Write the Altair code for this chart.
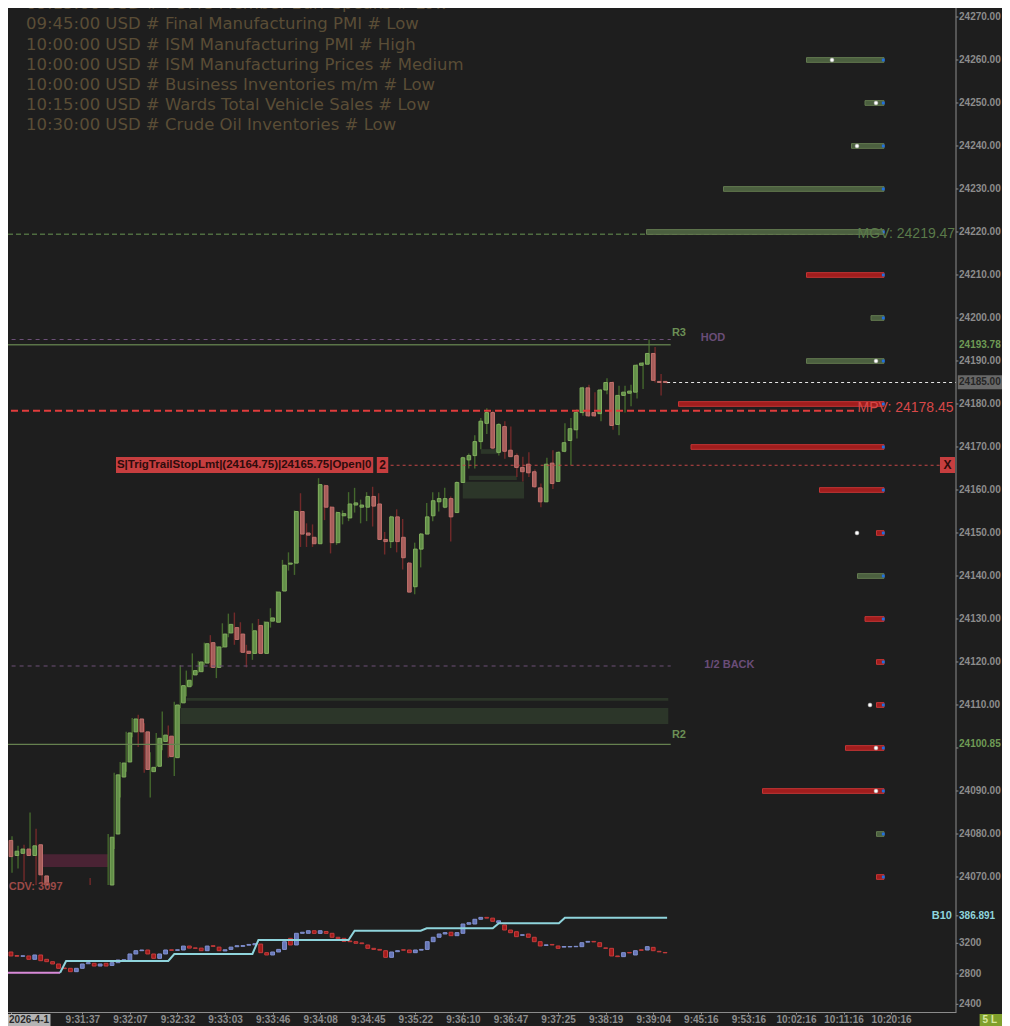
import json
import numpy as np
import pandas as pd
import altair as alt

# ---------------------------------------------------------------- data
NEWS = [
    "09:15:00 USD # FOMC Member Barr Speaks # Low",
    "09:45:00 USD # Final Manufacturing PMI # Low",
    "10:00:00 USD # ISM Manufacturing PMI # High",
    "10:00:00 USD # ISM Manufacturing Prices # Medium",
    "10:00:00 USD # Business Inventories m/m # Low",
    "10:15:00 USD # Wards Total Vehicle Sales # Low",
    "10:30:00 USD # Crude Oil Inventories # Low",
]
DATE_LABEL = "2026-4-1"
TIME_TICKS = [12, 20, 28, 36, 44, 52, 60, 68, 76, 84, 92, 100, 108, 116, 124, 132, 140, 148]
TIME_LABELS = ["9:31:37", "9:32:07", "9:32:32", "9:33:03", "9:33:46", "9:34:08", "9:34:45",
               "9:35:22", "9:36:10", "9:36:47", "9:37:25", "9:38:19", "9:39:04", "9:45:16",
               "9:53:16", "10:02:16", "10:11:16", "10:20:16"]
PRICE_TICKS = [24070, 24080, 24090, 24100, 24110, 24120, 24130, 24140, 24150, 24160, 24170,
               24180, 24190, 24200, 24210, 24220, 24230, 24240, 24250, 24260, 24270]
PRICE_TICKS_HIDDEN = [24100]
CDV_TICKS = [2400, 2800, 3200]

OPEN = [24078.5, 24075.0, 24075.5, 24076.5, 24075.0, 24077.5, 24070.25, 24066.0, 24062.0, 24057.0,
        24054.0, 24052.0, 24058.0, 24062.0, 24063.0, 24060.0, 24064.0, 24060.5, 24080.0, 24093.25,
        24096.75, 24103.75, 24106.75, 24103.75, 24094.5, 24095.75, 24101.5, 24102.75, 24097.75, 24110.5,
        24114.25, 24117.0, 24117.75, 24119.75, 24124.5, 24118.75, 24123.5, 24126.75, 24128.0, 24126.5,
        24122.5, 24122.0, 24128.5, 24122.0, 24129.5, 24129.25, 24136.5, 24142.75, 24143.0, 24155.0,
        24150.0, 24149.0, 24147.5, 24161.0, 24156.0, 24147.75, 24154.0, 24153.5, 24156.5, 24156.0,
        24156.0, 24158.5, 24156.75, 24148.5, 24148.0, 24153.75, 24149.0, 24143.0, 24137.5, 24146.25,
        24149.75, 24154.0, 24157.25, 24156.0, 24158.0, 24154.75, 24161.75, 24167.0, 24168.0, 24171.25,
        24175.5, 24178.0, 24168.75, 24174.75, 24169.25, 24168.0, 24165.25, 24166.0, 24164.25, 24160.5,
        24157.25, 24166.25, 24162.0, 24169.0, 24171.5, 24174.0, 24178.0, 24183.75, 24178.0, 24177.75,
        24183.25, 24185.0, 24175.25, 24182.0, 24182.5, 24182.75, 24189.0, 24189.25, 24191.75, 24185.25,
        24185.25]
HIGH = [24080.25, 24079.5, 24077.25, 24077.5, 24085.0, 24081.25, 24072.25, 24067.5, 24064.0, 24059.0,
        24058.0, 24060.0, 24064.0, 24066.0, 24069.75, 24065.0, 24066.0, 24080.0, 24094.25, 24096.75,
        24103.75, 24107.0, 24107.75, 24105.75, 24099.0, 24103.5, 24108.5, 24105.25, 24110.75, 24119.25,
        24118.0, 24122.0, 24120.25, 24124.5, 24126.25, 24123.75, 24129.0, 24131.25, 24131.5, 24129.25,
        24124.0, 24129.0, 24130.0, 24129.5, 24132.5, 24136.5, 24143.75, 24145.5, 24155.25, 24159.25,
        24152.25, 24152.0, 24162.75, 24161.25, 24156.25, 24155.0, 24155.25, 24159.5, 24160.5, 24157.75,
        24159.5, 24160.75, 24159.25, 24150.25, 24154.0, 24155.5, 24153.25, 24143.25, 24147.75, 24150.0,
        24157.0, 24159.5, 24159.5, 24160.5, 24158.5, 24162.0, 24167.75, 24168.5, 24172.75, 24176.75,
        24179.0, 24178.5, 24175.5, 24176.0, 24174.75, 24168.5, 24167.75, 24168.75, 24164.75, 24161.5,
        24167.5, 24169.25, 24169.0, 24175.5, 24176.75, 24178.75, 24184.0, 24184.5, 24182.75, 24183.5,
        24186.0, 24185.25, 24184.25, 24184.25, 24184.5, 24189.25, 24189.75, 24195.0, 24193.25, 24187.0,
        24185.25]
LOW = [24070.5, 24071.0, 24072.0, 24069.0, 24075.0, 24068.0, 24062.0, 24060.0, 24055.5, 24052.0,
       24050.0, 24051.0, 24056.0, 24058.0, 24058.5, 24058.0, 24059.0, 24059.5, 24076.5, 24088.5,
       24094.5, 24102.5, 24100.25, 24094.25, 24088.5, 24095.5, 24099.5, 24097.75, 24093.5, 24109.25,
       24112.0, 24114.5, 24117.5, 24119.25, 24118.75, 24116.25, 24123.25, 24125.75, 24124.0, 24122.25,
       24118.75, 24120.5, 24122.0, 24122.0, 24128.0, 24129.25, 24136.5, 24141.25, 24140.25, 24146.75,
       24146.75, 24146.75, 24147.5, 24153.0, 24145.25, 24147.25, 24152.0, 24152.75, 24154.75, 24152.25,
       24152.75, 24151.5, 24148.5, 24145.0, 24146.5, 24145.5, 24141.5, 24136.25, 24135.75, 24142.0,
       24149.75, 24152.75, 24155.0, 24155.75, 24148.0, 24154.75, 24161.75, 24165.0, 24165.0, 24169.5,
       24173.0, 24169.5, 24168.0, 24167.25, 24167.75, 24163.0, 24162.0, 24163.0, 24160.5, 24156.0,
       24157.25, 24160.25, 24162.0, 24168.75, 24165.75, 24172.0, 24177.25, 24177.0, 24177.0, 24176.0,
       24182.25, 24174.0, 24172.75, 24178.0, 24179.5, 24181.25, 24183.5, 24189.25, 24185.0, 24182.0,
       24184.75]
CLOSE = [24074.75, 24076.0, 24076.5, 24075.0, 24077.25, 24070.5, 24066.0, 24062.0, 24057.0, 24054.0,
         24052.0, 24058.0, 24062.0, 24063.0, 24060.0, 24064.0, 24060.5, 24079.25, 24093.75, 24096.5,
         24103.5, 24106.75, 24103.75, 24095.0, 24095.5, 24102.25, 24103.0, 24098.0, 24110.0, 24114.5,
         24115.75, 24118.0, 24120.0, 24124.25, 24118.75, 24123.5, 24126.5, 24128.75, 24125.25, 24122.25,
         24122.0, 24127.25, 24122.0, 24129.25, 24130.25, 24136.25, 24142.5, 24143.0, 24155.0, 24149.75,
         24149.5, 24147.5, 24161.25, 24156.0, 24147.75, 24154.75, 24154.5, 24156.75, 24157.0, 24156.5,
         24158.5, 24156.25, 24148.5, 24148.0, 24153.75, 24148.0, 24144.25, 24136.25, 24146.25, 24149.75,
         24153.75, 24157.5, 24158.0, 24158.0, 24153.75, 24161.75, 24167.5, 24168.0, 24171.25, 24176.0,
         24178.0, 24169.75, 24175.25, 24169.0, 24167.75, 24165.25, 24164.25, 24164.0, 24160.75, 24157.25,
         24166.0, 24161.5, 24168.75, 24171.0, 24174.25, 24178.0, 24183.75, 24177.25, 24177.25, 24183.25,
         24185.0, 24175.0, 24182.0, 24182.75, 24183.0, 24189.0, 24189.5, 24191.75, 24185.5, 24185.0,
         24185.0]

CDV_OPEN = [3086, 3040, 3030, 3034, 2990, 3047, 2990, 2959, 2929, 2876,
            2872, 2828, 2872, 2932, 2938, 2902, 2938, 2910, 2946, 2975,
            2972, 3060, 3103, 3112, 3060, 3003, 3060, 3115, 3108, 3112,
            3164, 3140, 3137, 3103, 3168, 3150, 3100, 3120, 3155, 3160,
            3175, 3180, 3190, 3077, 3047, 3086, 3120, 3265, 3178, 3331,
            3331, 3365, 3330, 3355, 3331, 3279, 3265, 3230, 3221, 3205,
            3178, 3134, 3120, 3103, 3016, 3090, 3115, 3112, 3077, 3110,
            3120, 3221, 3279, 3322, 3345, 3300, 3331, 3450, 3453, 3515,
            3540, 3530, 3470, 3440, 3374, 3352, 3305, 3322, 3279, 3221,
            3172, 3185, 3165, 3150, 3152, 3155, 3156, 3215, 3225, 3208,
            3140, 3134, 3034, 3025, 3080, 3047, 3115, 3112, 3147, 3095,
            3080]
CDV_CLOSE = [3034, 3030, 3036, 2990, 3047, 2972, 2959, 2929, 2872, 2868,
             2828, 2872, 2929, 2946, 2902, 2929, 2902, 2946, 2981, 2985,
             3060, 3103, 3112, 3060, 3003, 3060, 3112, 3108, 3115, 3164,
             3137, 3134, 3103, 3164, 3160, 3103, 3115, 3150, 3168, 3170,
             3185, 3195, 3077, 3047, 3086, 3120, 3221, 3178, 3331, 3345,
             3365, 3330, 3365, 3330, 3279, 3260, 3225, 3221, 3200, 3195,
             3134, 3120, 3110, 3016, 3086, 3103, 3110, 3077, 3112, 3120,
             3221, 3279, 3322, 3340, 3300, 3340, 3453, 3470, 3515, 3540,
             3530, 3488, 3495, 3374, 3339, 3287, 3312, 3279, 3221, 3165,
             3180, 3178, 3134, 3158, 3158, 3160, 3208, 3225, 3218, 3156,
             3134, 3034, 3025, 3077, 3074, 3103, 3108, 3156, 3103, 3088,
             3075]
CDV_LAST = 3097

START_I = [0, 9]
START_V = [2815, 2815]
B10_I = [9, 10, 27, 28, 41, 42, 57, 58, 69, 70, 81, 82, 92, 93, 110]
B10_V = [2815, 2968, 2968, 3060, 3060, 3243, 3243, 3365, 3365, 3397, 3397, 3462, 3462, 3536, 3536]
B10_LAST = "386.891"
B10_LABEL_V = 3560

VP_PRICE = [24260, 24250, 24240, 24230, 24220, 24210, 24200, 24190, 24180, 24170,
            24160, 24150, 24140, 24130, 24120, 24110, 24100, 24090, 24080, 24070]
VP_VOL = [155, 38, 65, 321, 475, 155, 26, 155, 411, 386,
          129, 15, 53, 38, 15, 15, 77, 243, 15, 15]
VP_SIDE = ["buy", "buy", "buy", "buy", "buy", "sell", "buy", "buy", "sell", "sell",
           "sell", "sell", "buy", "sell", "sell", "sell", "sell", "sell", "buy", "sell"]
VP_MARK_PRICE = [24260, 24250, 24240, 24190, 24150, 24110, 24100, 24090]
VP_MARK_VOL = [104, 16, 54, 16, 54, 28, 16, 16]

LEVEL_NAME = ["MGV", "MPV", "ORDER", "LAST", "R3", "HOD", "HALF", "R2"]
LEVEL_PRICE = [24219.47, 24178.45, 24165.75, 24185.00, 24193.78, 24195.00, 24119.07, 24100.85]
LEVEL_FROM = [-1.0, -1.0, 63.0, 110.0, -0.4, -0.4, -0.4, -0.4]
LEVEL_TO = [141.8, 141.8, 155.4, 158.07, 110.6, 110.6, 110.6, 110.6]

ZONE_FROM = [29.0, 30.0, 76.0, 77.0, 79.0, 6.0]
ZONE_TO = [110.2, 110.2, 86.2, 85.0, 82.0, 17.0]
ZONE_LO = [24105.6, 24111.0, 24158.0, 24162.3, 24168.4, 24072.3]
ZONE_HI = [24109.3, 24111.6, 24161.9, 24163.3, 24169.5, 24075.3]
ZONE_KIND = ["bull", "bull", "bull", "bull", "bull", "bear"]

TAG_TEXT = ["R3", "HOD", "1/2 BACK", "R2"]
TAG_I = [110.8, 115.6, 116.2, 110.8]
TAG_P = [24196.5, 24195.35, 24119.3, 24103.0]
TAG_KIND = ["pivot", "level", "level", "pivot"]

ORDER_TEXT = "S|TrigTrailStopLmt|(24164.75)|24165.75|Open|0"
ORDER_QTY = "2"

# ---------------------------------------------------------------- layout
# negative top/left padding cancels the page's 8px margin so chart pixels equal window pixels;
# total svg width is kept at 994 so the page does not shrink it.
W, H, PH = 956, 1012, 885
XDOM = [-1.0, 158.07]
PDOM = [24068.14, 24273.95]
CDOM = [2299.4, 3964.3]
BG = "#1e1e1e"
FONT = "Liberation Sans"
AX = "#8c8c8c"
AXIS_I = XDOM[1]
TXT_I = XDOM[1] + 0.5
AXFS = 10


def X(f):
    return alt.X(f, type="quantitative", scale=alt.Scale(domain=XDOM, nice=False, zero=False), axis=None)


def PY(f):
    return alt.Y(f, type="quantitative",
                 scale=alt.Scale(domain=PDOM, range=[PH, 0], clamp=True, nice=False, zero=False), axis=None)


def CY(f):
    return alt.Y(f, type="quantitative",
                 scale=alt.Scale(domain=CDOM, range=[H, PH], nice=False, zero=False), axis=None)


def txt(df, yfn, y="p", x="x", text="t", **mk):
    props = dict(font=FONT, baseline="middle", align="left")
    props.update(mk)
    return alt.Chart(df).mark_text(**props).encode(x=X(x), y=yfn(y), text=alt.Text(text, type="nominal"))


def box(x0, x1, lo, hi, yfn, color):
    df = pd.DataFrame({"x0": [x0], "x1": [x1], "lo": [lo], "hi": [hi]})
    return alt.Chart(df).mark_rect(color=color).encode(x=X("x0"), x2=alt.X2("x1"), y=yfn("lo"), y2=alt.Y2("hi"))


layers = []

# zones
zones = pd.DataFrame({"x0": ZONE_FROM, "x1": ZONE_TO, "lo": ZONE_LO, "hi": ZONE_HI, "k": ZONE_KIND})
zones["col"] = zones.k.map({"bull": "#2c3629", "bear": "#4a2334"})
layers.append(alt.Chart(zones).mark_rect().encode(
    x=X("x0"), x2=alt.X2("x1"), y=PY("lo"), y2=alt.Y2("hi"), color=alt.Color("col:N", scale=None)))

# news
NEWS_TOP, NEWS_STEP = 24273.0, 4.7
news = pd.DataFrame({"t": NEWS})
news["x"] = 3.33
news["p"] = NEWS_TOP - np.arange(len(NEWS)) * NEWS_STEP
layers.append(txt(news, PY, font="DejaVu Sans", fontSize=16.5, color="#5a4d36"))

# candles
candles = pd.DataFrame({"i": np.arange(len(OPEN)), "o": OPEN, "h": HIGH, "l": LOW, "c": CLOSE})
up = candles.c >= candles.o
candles["wick"] = np.where(up, "#44672d", "#722a2a")
candles["fill"] = np.where(up, "#628f48", "#a65d5a")
candles["edge"] = np.where(up, "#80ad5e", "#c0716d")
layers.append(alt.Chart(candles).transform_filter(f"datum.h > {PDOM[0]}").mark_rule(strokeWidth=1.4).encode(
    x=X("i"), y=PY("l"), y2=alt.Y2("h"), color=alt.Color("wick:N", scale=None)))
layers.append(alt.Chart(candles).transform_filter(f"max(datum.o, datum.c) > {PDOM[0]}").mark_bar(
    size=3.6, strokeWidth=1).encode(
    x=X("i"), y=PY("o"), y2=alt.Y2("c"),
    fill=alt.Fill("fill:N", scale=None), stroke=alt.Stroke("edge:N", scale=None)))

# level lines
LEVEL_STYLE = {
    "MGV": dict(color="#4f6d40", strokeDash=[5, 3], strokeWidth=1.6),
    "MPV": dict(color="#e03c3c", strokeDash=[7, 4], strokeWidth=2),
    "ORDER": dict(color="#c04545", strokeDash=[3, 3], strokeWidth=1),
    "LAST": dict(color="#e6e6e6", strokeDash=[3, 3], strokeWidth=1.2),
    "R3": dict(color="#5b7548", strokeWidth=1.5),
    "HOD": dict(color="#6d5078", strokeDash=[4, 4], strokeWidth=1),
    "HALF": dict(color="#6d5078", strokeDash=[4, 4], strokeWidth=1),
    "R2": dict(color="#66814f", strokeWidth=1.3),
}
for name, p, a, b in zip(LEVEL_NAME, LEVEL_PRICE, LEVEL_FROM, LEVEL_TO):
    df = pd.DataFrame({"x0": [a], "x1": [b], "p": [p]})
    layers.append(alt.Chart(df).mark_rule(**LEVEL_STYLE[name]).encode(x=X("x0"), x2=alt.X2("x1"), y=PY("p")))

# volume profile
vp = pd.DataFrame({"p": VP_PRICE, "v": VP_VOL, "side": VP_SIDE})
vp["fill"] = vp.side.map({"buy": "#4b5f3f", "sell": "#a11d1d"})
vp["edge"] = vp.side.map({"buy": "#62794f", "sell": "#c33434"})
VP_RIGHT, VP_PX = 884.0, 0.5
vscale = alt.Scale(domain=[0, 500], range=[VP_RIGHT, VP_RIGHT - 500 * VP_PX], nice=False, zero=False)
layers.append(alt.Chart(vp).transform_calculate(lo="datum.p - 0.55", hi="datum.p + 0.55").mark_rect(
    strokeWidth=1).encode(
    x=alt.X("v:Q", scale=vscale, axis=None), x2=alt.datum(0), y=PY("lo"), y2=alt.Y2("hi"),
    fill=alt.Fill("fill:N", scale=None), stroke=alt.Stroke("edge:N", scale=None)))
layers.append(alt.Chart(vp).transform_calculate(e="1.4").mark_square(size=8, color="#1f6fe0", opacity=1).encode(
    x=alt.X("e:Q", scale=vscale, axis=None), y=PY("p")))
vpm = pd.DataFrame({"p": VP_MARK_PRICE, "v": VP_MARK_VOL})
layers.append(alt.Chart(vpm).mark_circle(size=16, color="#ffffff", opacity=1, stroke="#9a9a9a",
                                         strokeWidth=0.5).encode(
    x=alt.X("v:Q", scale=vscale, axis=None), y=PY("p")))

# MGV / MPV value labels
vl = pd.DataFrame({"t": [f"{n}: {p:.2f}" for n, p in zip(LEVEL_NAME[:2], LEVEL_PRICE[:2])],
                   "p": [LEVEL_PRICE[0], LEVEL_PRICE[1] + 0.6], "x": [141.7, 141.7],
                   "col": ["#5a7a4a", "#d84848"]})
layers.append(alt.Chart(vl).mark_text(font=FONT, fontSize=14, align="left", baseline="middle").encode(
    x=X("x"), y=PY("p"), text="t:N", color=alt.Color("col:N", scale=None)))

# level tags
tags = pd.DataFrame({"t": TAG_TEXT, "x": TAG_I, "p": TAG_P, "k": TAG_KIND})
tags["col"] = tags.k.map({"pivot": "#6b8f55", "level": "#6a4d78"})
layers.append(alt.Chart(tags).mark_text(font=FONT, fontSize=11, fontWeight="bold", align="left",
                                        baseline="middle").encode(
    x=X("x"), y=PY("p"), text="t:N", color=alt.Color("col:N", scale=None)))

# order label
ORD_LO, ORD_HI, ORD_P = 24163.95, 24167.67, 24165.8
layers.append(box(18.3, 61.1, ORD_LO, ORD_HI, PY, "#c63e3f"))
layers.append(box(61.7, 63.6, ORD_LO, ORD_HI, PY, "#c63e3f"))
layers.append(box(155.4, 157.9, ORD_LO, ORD_HI, PY, "#c63e3f"))
layers.append(txt(pd.DataFrame({"t": [ORDER_TEXT], "x": [18.45], "p": [ORD_P]}), PY,
                  fontSize=11.5, fontWeight="bold", color="#2e0c0c"))
layers.append(txt(pd.DataFrame({"t": [ORDER_QTY, "X"], "x": [62.65, 156.65], "p": [ORD_P, ORD_P]}), PY,
                  fontSize=12, fontWeight="bold", color="#2e0c0c", align="center"))

# right price axis (drawn by hand)
layers.append(alt.Chart(pd.DataFrame({"x": [AXIS_I], "a": [PDOM[0]], "b": [PDOM[1]]})).mark_rule(
    color=AX, strokeWidth=1).encode(x=X("x"), y=PY("a"), y2=alt.Y2("b")))
pt = pd.DataFrame({"p": PRICE_TICKS})
pt["x0"], pt["x1"] = AXIS_I, AXIS_I + 0.4
layers.append(alt.Chart(pt).mark_rule(color=AX).encode(x=X("x0"), x2=alt.X2("x1"), y=PY("p")))
pl = pt[~pt.p.isin(PRICE_TICKS_HIDDEN)].copy()
pl["x"] = TXT_I
layers.append(alt.Chart(pl).mark_text(font=FONT, fontSize=AXFS, fontWeight="bold", color=AX, align="left",
                                      baseline="middle").encode(
    x=X("x"), y=PY("p"), text=alt.Text("p:Q", format=".2f")))
# special price labels
layers.append(box(TXT_I - 0.2, 172, 24183.45, 24186.7, PY, "#686868"))
sp = pd.DataFrame({"p": [LEVEL_PRICE[4], LEVEL_PRICE[3], LEVEL_PRICE[7]],
                   "col": ["#6e9a55", "#262626", "#6e9a55"]})
sp["x"] = TXT_I
layers.append(alt.Chart(sp).mark_text(font=FONT, fontSize=AXFS, fontWeight="bold", align="left",
                                      baseline="middle").encode(
    x=X("x"), y=PY("p"), text=alt.Text("p:Q", format=".2f"), color=alt.Color("col:N", scale=None)))

# ---------------------------------------------------------------- CDV panel
cdv = pd.DataFrame({"i": np.arange(len(CDV_OPEN)), "o": CDV_OPEN, "c": CDV_CLOSE})
cup = cdv.c >= cdv.o
cdv["fill"] = np.where(cup, "#6676b8", "#a31b1b")
cdv["edge"] = np.where(cup, "#8291d0", "#c43c3c")

labels_js = json.dumps(TIME_LABELS)
ticks_js = json.dumps(TIME_TICKS)
x_axis = alt.Axis(values=[0] + TIME_TICKS,
                  labelExpr=f"datum.value == 0 ? '' : {labels_js}[indexof({ticks_js}, datum.value)]",
                  domainColor=AX, tickColor=AX, tickSize=2, labelColor=AX, labelFont=FONT,
                  labelFontSize=AXFS, labelFontWeight="bold", labelPadding=0, grid=False, title=None,
                  labelOverlap=False, labelFlush=False)

layers.append(alt.Chart(pd.DataFrame({"i": START_I, "v": START_V})).mark_line(
    color="#d88ad8", strokeWidth=2).encode(x=X("i"), y=CY("v")))
layers.append(alt.Chart(cdv).mark_bar(size=3.8, strokeWidth=1).encode(
    x=alt.X("i", type="quantitative", scale=alt.Scale(domain=XDOM, nice=False, zero=False), axis=x_axis),
    y=CY("o"), y2=alt.Y2("c"),
    fill=alt.Fill("fill:N", scale=None), stroke=alt.Stroke("edge:N", scale=None)))
layers.append(alt.Chart(pd.DataFrame({"i": B10_I, "v": B10_V})).mark_line(
    color="#8fd4dc", strokeWidth=2).encode(x=X("i"), y=CY("v")))

layers.append(alt.Chart(pd.DataFrame({"x": [AXIS_I], "a": [CDOM[0]], "b": [CDOM[1]]})).mark_rule(
    color=AX, strokeWidth=1).encode(x=X("x"), y=CY("a"), y2=alt.Y2("b")))
ct = pd.DataFrame({"v": CDV_TICKS + [B10_LABEL_V]})
ct["x0"], ct["x1"] = AXIS_I, AXIS_I + 0.4
layers.append(alt.Chart(ct).mark_rule(color=AX).encode(x=X("x0"), x2=alt.X2("x1"), y=CY("v")))
cl = pd.DataFrame({"v": CDV_TICKS, "t": [str(v) for v in CDV_TICKS]})
cl["x"] = TXT_I
layers.append(txt(cl, CY, y="v", fontSize=AXFS, fontWeight="bold", color=AX))
layers.append(txt(pd.DataFrame({"t": [B10_LAST], "x": [TXT_I], "v": [B10_LABEL_V]}), CY, y="v",
                  fontSize=AXFS, fontWeight="bold", color="#8fd4dc"))
layers.append(txt(pd.DataFrame({"t": ["B10"], "x": [157.4], "v": [B10_LABEL_V]}), CY, y="v",
                  fontSize=11, fontWeight="bold", color="#8fd4dc", align="right"))
layers.append(txt(pd.DataFrame({"t": [f"CDV: {CDV_LAST}"], "x": [0.45], "v": [3938]}), CY, y="v",
                  fontSize=11, fontWeight="bold", color="#9c4a48"))

# date stamp and status box under the axis
layers.append(box(0.33, 7.4, 2115, 2273, CY, "#b4b4b4"))
layers.append(txt(pd.DataFrame({"t": [DATE_LABEL], "x": [0.5], "v": [2201]}), CY, y="v",
                  fontSize=AXFS, fontWeight="bold", color="#2a2a2a"))
layers.append(box(162.0, 168.5, 2115, 2273, CY, "#7f9f2c"))
layers.append(txt(pd.DataFrame({"t": ["5 L"], "x": [162.5], "v": [2201]}), CY, y="v",
                  fontSize=AXFS, fontWeight="bold", color="#d8e8a0"))

chart = alt.layer(*layers).resolve_scale(x="independent", y="independent").properties(
    width=W, height=H,
    autosize=alt.AutoSizeParams(type="none"),
    padding={"left": -8, "top": -8, "right": 46, "bottom": 14},
    background=BG,
).configure_view(stroke="transparent")

chart.save("out.html", embed_options={"renderer": "svg", "actions": False})
